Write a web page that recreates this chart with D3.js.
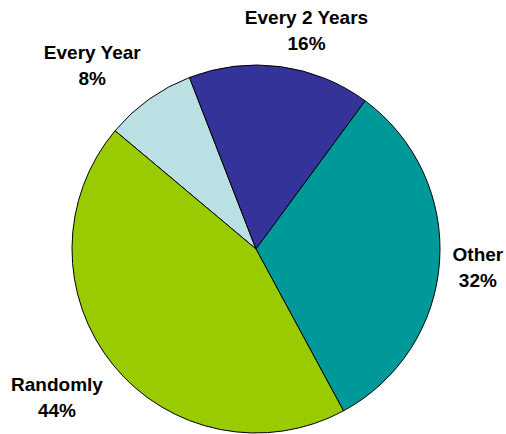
<!DOCTYPE html>
<html>
<head>
<meta charset="utf-8">
<script src="https://cdn.jsdelivr.net/npm/d3@7"></script>
<style>
  body { margin: 0; background: #fff; }
  text { font-family: "Liberation Sans", Arial, sans-serif; font-weight: bold; }
</style>
</head>
<body>
<div id="chart"></div>
<script>
// Chart data
var categories = ["Every Year", "Every 2 Years", "Other", "Randomly"];
var values = [8, 16, 32, 44];
var colors = ["#BBE0E3", "#333399", "#009999", "#99CC00"];

var width = 506, height = 434;
var cx = 256, cy = 249, radius = 184;
var labelR = 197; // distance of the label's near edge from the centre

var data = categories.map((c, i) => ({ name: c, value: values[i], color: colors[i] }));

var svg = d3.select("#chart")
  .append("svg")
  .attr("width", width)
  .attr("height", height);

var g = svg.append("g").attr("transform", "translate(" + cx + "," + cy + ")");

// Pie layout, first slice starts a bit left of 12 o'clock
var start = -50 * Math.PI / 180;
var pie = d3.pie()
  .sort(null)
  .value(d => d.value)
  .startAngle(start)
  .endAngle(start + 2 * Math.PI);

var arc = d3.arc().innerRadius(0).outerRadius(radius);

var arcs = pie(data);

g.selectAll("path.slice")
  .data(arcs)
  .enter()
  .append("path")
  .attr("class", "slice")
  .attr("d", arc)
  .attr("fill", d => d.data.color)
  .attr("stroke", "#000")
  .attr("stroke-width", 1);

// Labels: two lines, placed just outside the pie along the mid angle
var labels = g.selectAll("g.label")
  .data(arcs)
  .enter()
  .append("g")
  .attr("class", "label");

var txt = labels.append("text")
  .attr("text-anchor", "middle")
  .style("font-size", "19px")
  .attr("fill", "#000");

txt.append("tspan").attr("x", 0).attr("y", 0).text(d => d.data.name);
txt.append("tspan").attr("x", 0).attr("dy", 26).text(d => d.data.value + "%");

labels.each(function (d) {
  var b = this.getBBox();
  var a = (d.startAngle + d.endAngle) / 2;
  var ux = Math.sin(a), uy = -Math.cos(a);
  var fx = Math.max(0, Math.min(1, 0.5 - 1.5 * ux));
  var fy = Math.max(0, Math.min(1, 0.5 - 1.5 * uy));
  var px = ux * labelR, py = uy * labelR;
  var tx = px - (b.x + fx * b.width);
  var ty = py - (b.y + fy * b.height);
  d3.select(this).attr("transform", "translate(" + tx + "," + ty + ")");
});
</script>
</body>
</html>
